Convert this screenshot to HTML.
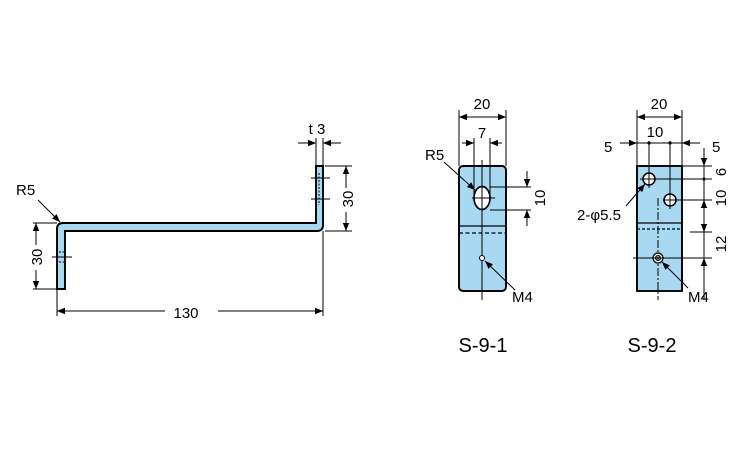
<!DOCTYPE html>
<html><head><style>html,body{margin:0;padding:0;background:#fff}svg{display:block}</style></head>
<body>
<svg width="750" height="450" viewBox="0 0 750 450" xmlns="http://www.w3.org/2000/svg" font-family="Liberation Sans, sans-serif" font-size="15">
<defs>
<marker id="a" viewBox="0 0 10 10" refX="10" refY="5" markerWidth="11" markerHeight="8" markerUnits="userSpaceOnUse" orient="auto"><path d="M0,1 L10,5 L0,9 Z" fill="#000"/></marker>
</defs>
<g stroke="#000" stroke-width="1" fill="none">
<path d="M57,289 V229 Q57,223 63,223 H316 V166 H323 V225 Q323,231 317,231 H65 V289 Z" fill="#a8d8f2" stroke-width="1.9"/>
<line x1="52" y1="257" x2="72" y2="257"/>
<line x1="59" y1="252" x2="64" y2="252" stroke-dasharray="2,1.5"/>
<line x1="59" y1="262" x2="64" y2="262" stroke-dasharray="2,1.5"/>
<line x1="311" y1="178" x2="330" y2="178"/>
<line x1="311" y1="199" x2="330" y2="199"/>
<line x1="319" y1="173" x2="319" y2="205" stroke-dasharray="2,1.5"/>
<line x1="33" y1="223" x2="57" y2="223"/><line x1="33" y1="289" x2="57" y2="289"/>
<line x1="36" y1="245" x2="36" y2="223" marker-end="url(#a)"/>
<line x1="36" y1="270" x2="36" y2="289" marker-end="url(#a)"/>
<line x1="325" y1="166" x2="352" y2="166"/><line x1="325" y1="231" x2="352" y2="231"/>
<line x1="346" y1="188" x2="346" y2="166" marker-end="url(#a)"/>
<line x1="346" y1="212" x2="346" y2="231" marker-end="url(#a)"/>
<line x1="57" y1="290" x2="57" y2="316"/><line x1="323" y1="231" x2="323" y2="316"/>
<line x1="165" y1="311" x2="57" y2="311" marker-end="url(#a)"/>
<line x1="218" y1="311" x2="323" y2="311" marker-end="url(#a)"/>
<line x1="316" y1="138" x2="316" y2="166"/><line x1="323" y1="138" x2="323" y2="166"/>
<line x1="298" y1="143" x2="316" y2="143" marker-end="url(#a)"/>
<line x1="341" y1="143" x2="323" y2="143" marker-end="url(#a)"/>
<line x1="38" y1="200" x2="60" y2="222" marker-end="url(#a)"/>

<rect x="459" y="166" width="47" height="125" rx="4" fill="#a8d8f2" stroke-width="1.9"/>
<line x1="459" y1="226" x2="506" y2="226" stroke-width="1.2"/>
<line x1="459" y1="233" x2="506" y2="233" stroke-dasharray="4,2.5" stroke-width="1.2"/>
<ellipse cx="482" cy="198" rx="8" ry="11.5" fill="#fff" stroke-width="1.7"/>
<line x1="482" y1="160" x2="482" y2="300"/>
<line x1="472" y1="198" x2="495" y2="198"/>
<circle cx="482" cy="258" r="2.5" fill="#fff"/>
<line x1="459" y1="110" x2="459" y2="166"/><line x1="506" y1="110" x2="506" y2="166"/>
<line x1="482" y1="117" x2="459" y2="117" marker-end="url(#a)"/>
<line x1="482" y1="117" x2="506" y2="117" marker-end="url(#a)"/>
<line x1="474" y1="138" x2="474" y2="198"/><line x1="490" y1="138" x2="490" y2="198"/>
<line x1="462" y1="143" x2="474" y2="143" marker-end="url(#a)"/>
<line x1="502" y1="143" x2="490" y2="143" marker-end="url(#a)"/>
<line x1="490" y1="187" x2="531" y2="187"/><line x1="490" y1="210" x2="531" y2="210"/>
<line x1="527" y1="171" x2="527" y2="187" marker-end="url(#a)"/>
<line x1="527" y1="226" x2="527" y2="210" marker-end="url(#a)"/>
<line x1="444" y1="162" x2="475" y2="190" marker-end="url(#a)"/>
<line x1="515" y1="290" x2="485" y2="261" marker-end="url(#a)"/>

<rect x="637" y="166" width="45" height="125" fill="#a8d8f2" stroke-width="1.9"/>
<line x1="637" y1="223" x2="682" y2="223" stroke-width="1.2"/>
<line x1="637" y1="229" x2="682" y2="229" stroke-dasharray="3,2" stroke-width="1.2"/>
<line x1="658" y1="198" x2="658" y2="300" stroke-dasharray="8,2,2,2"/>
<circle cx="649" cy="179" r="6" fill="#fff" stroke-width="1.5"/>
<circle cx="670" cy="200" r="6" fill="#fff" stroke-width="1.5"/>
<circle cx="658" cy="258" r="5" fill="#fff" stroke-width="1.2"/>
<circle cx="658" cy="258" r="2.5" fill="#888"/>
<line x1="633" y1="258" x2="712" y2="258"/>
<line x1="640" y1="179" x2="712" y2="179"/>
<line x1="663" y1="200" x2="712" y2="200"/>
<line x1="649" y1="141" x2="649" y2="188"/><line x1="670" y1="141" x2="670" y2="209"/>
<line x1="682" y1="166" x2="712" y2="166"/>
<line x1="690" y1="232" x2="712" y2="232"/>
<line x1="637" y1="110" x2="637" y2="166"/><line x1="682" y1="110" x2="682" y2="166"/>
<line x1="659" y1="117" x2="637" y2="117" marker-end="url(#a)"/>
<line x1="659" y1="117" x2="682" y2="117" marker-end="url(#a)"/>
<line x1="620" y1="143" x2="700" y2="143"/>
<line x1="622" y1="143" x2="637" y2="143" marker-end="url(#a)"/>
<line x1="697" y1="143" x2="682" y2="143" marker-end="url(#a)"/>
<line x1="704" y1="148" x2="704" y2="300"/>
<line x1="704" y1="150" x2="704" y2="166" marker-end="url(#a)"/>
<line x1="704" y1="216" x2="704" y2="200" marker-end="url(#a)"/>
<line x1="704" y1="216" x2="704" y2="232" marker-end="url(#a)"/>
<line x1="704" y1="274" x2="704" y2="258" marker-end="url(#a)"/>
<line x1="626" y1="206" x2="645" y2="184" marker-end="url(#a)"/>
<line x1="688" y1="288" x2="662" y2="262" marker-end="url(#a)"/>
</g>
<g fill="#000">
<circle cx="649" cy="143" r="1.6"/><circle cx="670" cy="143" r="1.6"/><circle cx="704" cy="179" r="1.6"/>
<text x="16" y="195">R5</text>
<text x="42" y="257" transform="rotate(-90 42 257)" text-anchor="middle">30</text>
<text x="353" y="199" transform="rotate(-90 353 199)" text-anchor="middle">30</text>
<text x="186" y="318" text-anchor="middle">130</text>
<text x="317" y="134" text-anchor="middle">t 3</text>
<text x="482" y="109" text-anchor="middle">20</text>
<text x="482" y="138" text-anchor="middle">7</text>
<text x="425" y="160">R5</text>
<text x="545" y="198" transform="rotate(-90 545 198)" text-anchor="middle">10</text>
<text x="512" y="302">M4</text>
<text x="659" y="109" text-anchor="middle">20</text>
<text x="655" y="137" text-anchor="middle">10</text>
<text x="604" y="152">5</text>
<text x="712" y="152">5</text>
<text x="726" y="172" transform="rotate(-90 726 172)" text-anchor="middle">6</text>
<text x="726" y="198" transform="rotate(-90 726 198)" text-anchor="middle">10</text>
<text x="726" y="244" transform="rotate(-90 726 244)" text-anchor="middle">12</text>
<text x="577" y="220">2-φ5.5</text>
<text x="688" y="302">M4</text>
<text x="483" y="352" font-size="20" text-anchor="middle">S-9-1</text>
<text x="652" y="352" font-size="20" text-anchor="middle">S-9-2</text>
</g>
</svg>
</body></html>
